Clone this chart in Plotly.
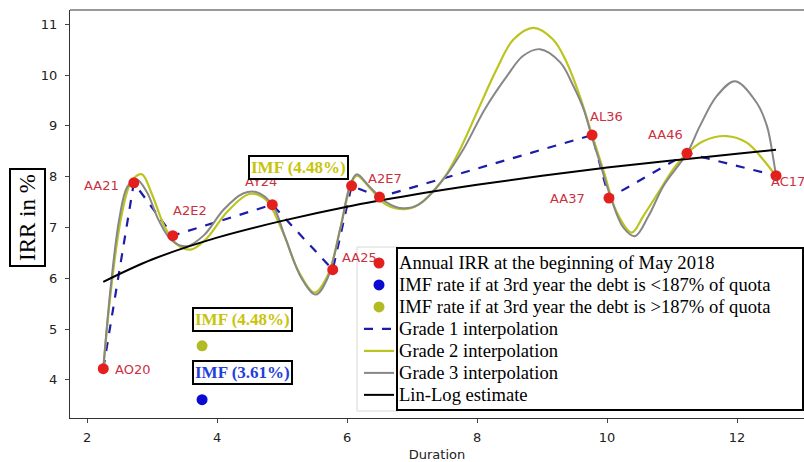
import plotly.graph_objects as go

# ---- data ----
bond_names = ["AO20", "AA21", "A2E2", "AY24", "AA25", "AA26", "A2E7", "AL36", "AA37", "AA46", "AC17"]
bond_duration = [2.25, 2.72, 3.32, 4.85, 5.78, 6.07, 6.50, 9.77, 10.03, 11.23, 12.60]
bond_irr = [4.22, 7.88, 6.84, 7.45, 6.17, 7.82, 7.60, 8.82, 7.58, 8.46, 8.02]

imf_duration = [3.77]
imf_low_rate = [3.61]
imf_high_rate = [4.67]

grade2_x = [2.25, 2.38, 2.53, 2.68, 2.84, 3.0, 3.2, 3.4, 3.61, 3.85, 4.15, 4.5, 4.75, 5.0, 5.25, 5.5,
            5.7, 5.9, 6.05, 6.15, 6.35, 6.6, 6.89, 7.1, 7.48, 7.74, 8.02, 8.30, 8.56, 8.87, 9.17,
            9.38, 9.58, 9.77, 9.95, 10.15, 10.38, 10.56, 10.82, 11.02, 11.23, 11.48, 11.84, 12.15, 12.4, 12.6]
grade2_y = [4.22, 5.90, 7.23, 7.90, 8.05, 7.65, 7.00, 6.65, 6.57, 6.80, 7.30, 7.66, 7.55, 6.95, 6.15, 5.72,
            6.05, 7.00, 7.80, 8.02, 7.78, 7.45, 7.36, 7.45, 7.95, 8.54, 9.33, 10.11, 10.70, 10.93, 10.70,
            10.25, 9.59, 8.82, 8.10, 7.30, 6.90, 7.23, 7.75, 8.15, 8.46, 8.70, 8.80, 8.67, 8.34, 8.01]

grade3_x = [2.25, 2.37, 2.5, 2.62, 2.76, 2.92, 3.1, 3.3, 3.53, 3.8, 4.1, 4.4, 4.6, 4.85, 5.05, 5.3, 5.52,
            5.7, 5.9, 6.05, 6.15, 6.35, 6.6, 6.85, 7.1, 7.48, 7.79, 8.12, 8.46, 8.71, 8.97, 9.28, 9.48,
            9.64, 9.76, 9.89, 10.05, 10.25, 10.43, 10.64, 10.87, 11.23, 11.43, 11.69, 11.97, 12.3, 12.46, 12.56, 12.6]
grade3_y = [4.22, 5.90, 7.20, 7.80, 7.95, 7.70, 7.15, 6.75, 6.63, 6.85, 7.35, 7.67, 7.70, 7.45, 6.80, 6.00, 5.68,
            6.00, 7.00, 7.85, 8.05, 7.80, 7.50, 7.38, 7.45, 7.95, 8.54, 9.33, 9.98, 10.38, 10.51, 10.25, 9.79,
            9.33, 8.81, 8.28, 7.62, 7.00, 6.83, 7.23, 7.82, 8.46, 9.00, 9.59, 9.88, 9.46, 9.00, 8.34, 8.01]

linlog_x = [2.25, 3, 4, 5, 6, 7, 8, 9, 10, 11, 12, 12.6]
linlog_y = [5.93, 6.37, 6.80, 7.13, 7.41, 7.64, 7.84, 8.02, 8.18, 8.32, 8.45, 8.53]

x_ticks = [2, 4, 6, 8, 10, 12]
y_ticks = [4, 5, 6, 7, 8, 9, 10, 11]

legend_labels = [
    "Annual IRR at the beginning of May 2018",
    "IMF rate if at 3rd year the debt is &lt;187% of quota",
    "IMF rate if at 3rd year the debt is &gt;187% of quota",
    "Grade 1 interpolation",
    "Grade 2 interpolation",
    "Grade 3 interpolation",
    "Lin-Log estimate",
]

# label offsets (pixels) for each bond label: (xanchor, xshift, yshift)
label_pos = [("left", 10, -1), ("right", -13, -3), ("left", -2, 25), ("center", -11, 23),
             ("left", 7, 12), ("right", -3, 24), ("center", 5, 19), ("center", 14, 19),
             ("right", -22, 0), ("right", -2, 19), ("left", -7, -6)]

RED = "#e3201e"
YEL = "#bcc420"
GRAY = "#878787"
DBLUE = "#1c1ca8"

def leg(t):
    return '<span style="font-size:18.6px">' + t + "</span>"

fig = go.Figure()

fig.add_trace(go.Scatter(x=bond_duration, y=bond_irr, mode="lines", name=leg(legend_labels[3]),
                         line=dict(color=DBLUE, width=2.2, dash="dash"), legendrank=4))
fig.add_trace(go.Scatter(x=grade2_x, y=grade2_y, mode="lines", name=leg(legend_labels[4]),
                         line=dict(color=YEL, width=2.2, shape="spline", smoothing=1.0), legendrank=5))
fig.add_trace(go.Scatter(x=grade3_x, y=grade3_y, mode="lines", name=leg(legend_labels[5]),
                         line=dict(color=GRAY, width=2.0, shape="spline", smoothing=1.0), legendrank=6))
fig.add_trace(go.Scatter(x=linlog_x, y=linlog_y, mode="lines", name=leg(legend_labels[6]),
                         line=dict(color="black", width=2.0, shape="spline"), legendrank=7))
fig.add_trace(go.Scatter(x=bond_duration, y=bond_irr, mode="markers", name=leg(legend_labels[0]),
                         marker=dict(color=RED, size=11), legendrank=1))
fig.add_trace(go.Scatter(x=imf_duration, y=imf_low_rate, mode="markers", name=leg(legend_labels[1]),
                         marker=dict(color="#0a0ad2", size=11), legendrank=2))
fig.add_trace(go.Scatter(x=imf_duration, y=imf_high_rate, mode="markers", name=leg(legend_labels[2]),
                         marker=dict(color="#b3bb24", size=11), legendrank=3))

annotations = []
for name, xv, yv, (anc, xs, ys) in zip(bond_names, bond_duration, bond_irr, label_pos):
    annotations.append(dict(x=xv, y=yv, text=name, showarrow=False, xanchor=anc, yanchor="middle",
                            xshift=xs, yshift=ys,
                            font=dict(family="DejaVu Sans", size=13, color="#cc3040")))

box_font = dict(family="Liberation Serif", size=17)
annotations.append(dict(x=imf_duration[0], y=imf_high_rate[0], text="<b>IMF (4.48%)</b>", showarrow=False,
                        xshift=40, yshift=26, bgcolor="white", bordercolor="black", borderwidth=2, borderpad=1,
                        font=dict(color="#c8c40c", **box_font)))
annotations.append(dict(x=imf_duration[0], y=imf_low_rate[0], text="<b>IMF (3.61%)</b>", showarrow=False,
                        xshift=40, yshift=27, bgcolor="white", bordercolor="black", borderwidth=2, borderpad=1,
                        font=dict(color="#1f3fe0", **box_font)))
annotations.append(dict(x=5.25, y=8.19, text="<b>IMF (4.48%)</b>", showarrow=False,
                        bgcolor="white", bordercolor="black", borderwidth=2, borderpad=1,
                        font=dict(color="#c8c40c", **box_font)))
annotations.append(dict(x=(27 - 70) / 734, y=(418 - 218) / 408, xref="paper", yref="paper", text="IRR in %",
                        textangle=-90, xanchor="center", yanchor="middle",
                        showarrow=False, bgcolor="white", bordercolor="black", borderwidth=2, borderpad=4,
                        font=dict(family="Liberation Serif", size=23, color="black")))

def fx(px):
    return (px - 70) / 734

def fy(py):
    return (418 - py) / 408

shapes = [
    # top spine
    dict(type="line", xref="paper", yref="paper", x0=0, x1=1, y0=1, y1=1, line=dict(color="#333", width=1.2)),
    # legend symbol frame (light)
    dict(type="rect", xref="paper", yref="paper", x0=fx(357), x1=fx(398), y0=fy(411), y1=fy(247),
         fillcolor="white", line=dict(color="#d8d8d8", width=1), layer="above"),
    # legend text box
    dict(type="rect", xref="paper", yref="paper", x0=fx(397), x1=fx(803), y0=fy(410), y1=fy(248),
         fillcolor="white", line=dict(color="black", width=2), layer="above"),
]

fig.update_layout(
    width=804, height=462,
    margin=dict(l=70, r=0, t=10, b=44),
    paper_bgcolor="white", plot_bgcolor="white",
    showlegend=True,
    legend=dict(x=fx(359), y=fy(247), xanchor="left", yanchor="top",
                bgcolor="rgba(0,0,0,0)", borderwidth=0, tracegroupgap=0,
                font=dict(family="Liberation Serif", size=14.6, color="black")),
    annotations=annotations,
    shapes=shapes,
    xaxis=dict(range=[1.738, 1.738 + 734 / 65], tickvals=x_ticks, ticks="outside", ticklen=4,
               showline=True, linecolor="#333", linewidth=1.2, showgrid=False, zeroline=False,
               ticklabelstandoff=3,
               tickfont=dict(family="DejaVu Sans", size=13, color="#222"),
               title=dict(text="Duration", font=dict(family="DejaVu Sans", size=13, color="#222"), standoff=6)),
    yaxis=dict(range=[3.25, 3.25 + 408 / 50.8], tickvals=y_ticks, ticks="outside", ticklen=4,
               showline=True, linecolor="#333", linewidth=1.2, showgrid=False, zeroline=False,
               ticklabelstandoff=5,
               tickfont=dict(family="DejaVu Sans", size=13, color="#222")),
)

fig.write_html("out.html", config={"displayModeBar": False},
               post_script="document.body.style.margin='0';document.body.style.overflow='hidden';")
